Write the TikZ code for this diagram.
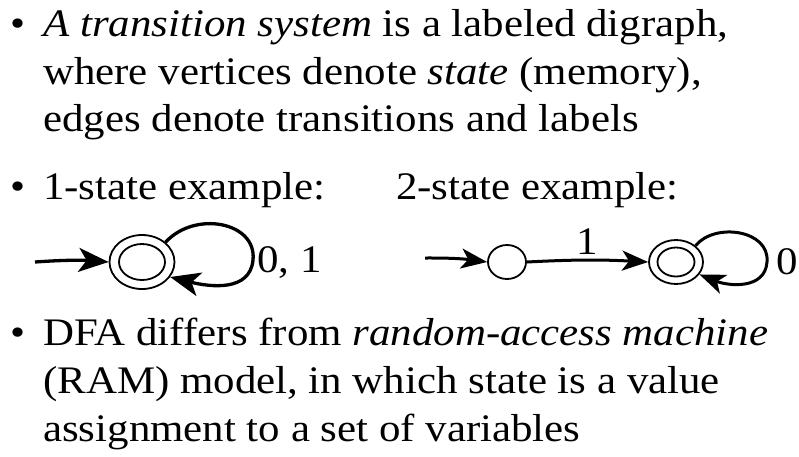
\documentclass[tikz,border=0pt]{standalone}
\usepackage{fontspec}
\setmainfont[FakeStretch=1.1]{Liberation Serif}
\usetikzlibrary{shapes.geometric,arrows.meta}
\begin{document}
\begin{tikzpicture}[x=1pt,y=-1pt,
  txt/.style={anchor=base west,inner sep=0pt,font=\fontsize{39}{47}\selectfont},
  lbl/.style={anchor=west,inner sep=0pt,font=\fontsize{39}{47}\selectfont},
  state/.style={ellipse,draw,line width=1.8pt,inner sep=0pt},
  arr/.style={line width=3.3pt,-{Stealth[length=30pt,width=24pt,inset=8pt]}},
  arrs/.style={line width=3pt,-{Stealth[length=26pt,width=20pt,inset=7pt]}}]
\useasboundingbox (0,0) rectangle (799,456);

% bullet text
\node[txt] (b1) at (10,36) {•};
\node[txt] (l1) at (43,36) {\itshape A transition system\/\upshape{} is a labeled digraph,};
\node[txt] (l2) at (43,84) {where vertices denote \textit{state} (memory),};
\node[txt] (l3) at (43,131) {edges denote transitions and labels};
\node[txt] (b2) at (10,199) {•};
\node[txt] (l4) at (43,199) {1-state example:};
\node[txt] (l4b) at (396,199) {2-state example:};
\node[txt] (b3) at (10,345) {•};
\node[txt] (l5) at (43,345) {DFA differs from \textit{random-access machine}};
\node[txt] (l6) at (43,393) {(RAM) model, in which state is a value};
\node[txt] (l7) at (43,441) {assignment to a set of variables};

% 1-state automaton
\node[state,minimum width=65pt,minimum height=54pt] (s) at (142,262) {};
\draw[line width=1.8pt] (s.center) ellipse [x radius=23, y radius=18];
\coordinate (sin) at (35,262);
\draw[arr] (sin) to[bend left=4] (s.west);
\draw[arr] (s.40) .. controls (195,210) and (257,222) .. (253,260)
  .. controls (250,292) and (210,287) .. (s.-28);
\node[lbl] (sl) at (257,263) {0, 1};

% 2-state automaton
\node[state,minimum width=38pt,minimum height=34pt] (p) at (507,262) {};
\node[state,minimum width=54pt,minimum height=44pt] (q) at (676,262) {};
\draw[line width=1.8pt] (q.center) ellipse [x radius=18.5, y radius=14.5];
\coordinate (pin) at (425,258);
\draw[arrs] (pin) to[bend left=4] (p.west);
\draw[arrs] (p.east) to[bend left=3] node[above=4pt,inner sep=0pt,font=\fontsize{39}{47}\selectfont] (pl) {1} (q.west);
\draw[arrs] (q.40) .. controls (715,222) and (770,230) .. (767,262)
  .. controls (765,290) and (728,286) .. (q.-28);
\node[lbl] (ql) at (776,262) {0};
\end{tikzpicture}
\end{document}
